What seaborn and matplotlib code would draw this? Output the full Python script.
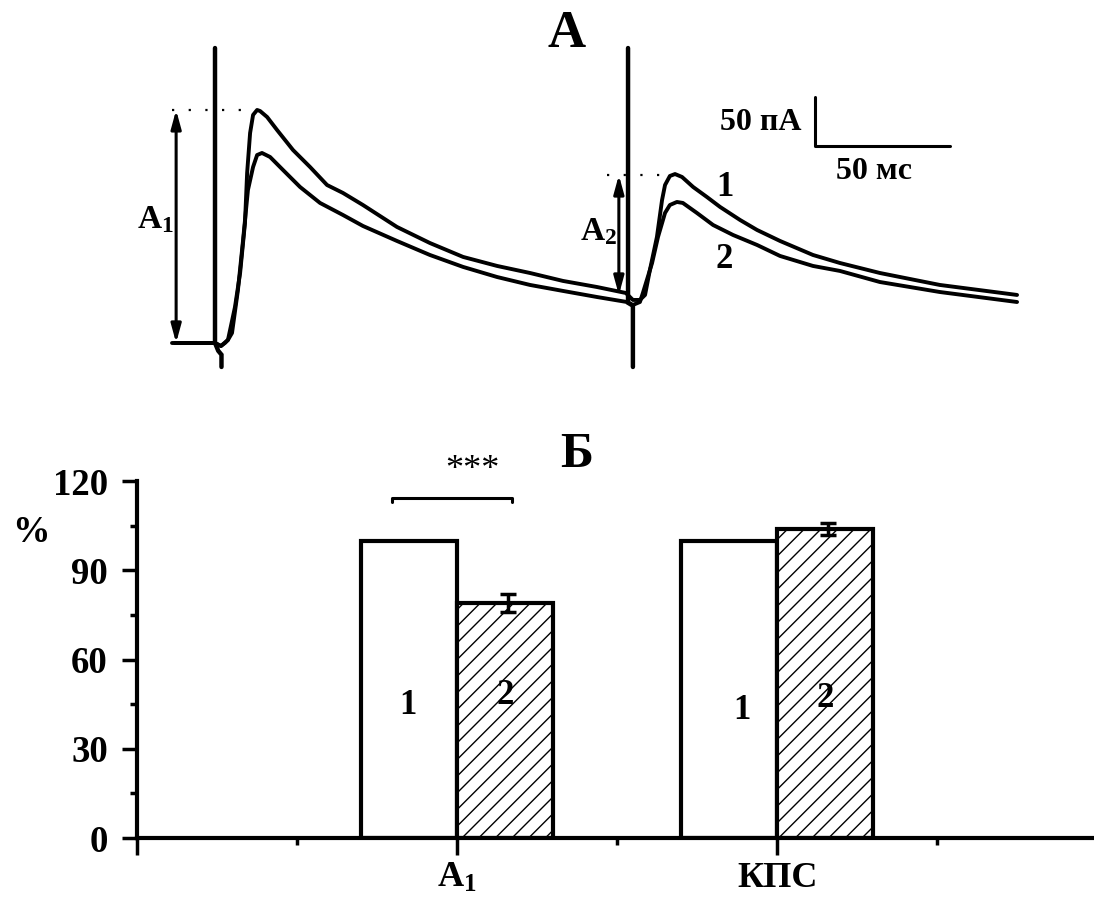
import numpy as np
import pandas as pd
import matplotlib
matplotlib.use('Agg')
import matplotlib.pyplot as plt
import seaborn as sns

# --- данные: токи (панель А), время в мс, ток в пА ---
t1 = [0, 14.8, 17.0, 18.5, 19.6, 22.2, 24.1, 25.9, 26.7, 27.8, 28.9, 30.4, 31.5,
      34.1, 37.8, 43.7, 50.0, 56.3, 62.2, 69.6, 82.2, 94.4, 106.7, 119.3, 131.5, 143.7,
      156.3, 167.0,
      169.6, 172.2, 174.1, 175.9, 178.5, 180.4, 181.5, 183.3, 185.2, 187.8, 191.9, 197.0,
      201.9, 209.3, 215.6, 224.1, 236.3, 246.3, 261.1, 283.3, 311.9]
i1 = [0, 0, -3.1, 0, 3.1, 36.7, 71.4, 122.4, 173.5, 214.3, 232.7, 237.8, 236.7,
      230.6, 217.3, 196.9, 179.6, 161.2, 153.1, 140.8, 118.4, 102.0, 87.8, 78.6, 71.4, 63.3,
      57.1, 51.0,
      43.9, 43.9, 49.0, 74.5, 108.2, 145.9, 161.2, 170.4, 172.4, 169.4, 159.2, 149.0,
      138.8, 125.5, 115.3, 104.1, 89.8, 81.6, 71.4, 59.2, 49.0]

t2 = [0, 14.8, 17.0, 19.6, 21.1, 23.3, 25.2, 27.0, 28.9, 30.4, 32.2,
      35.2, 40.0, 46.3, 53.7, 62.2, 69.6, 82.2, 94.4, 106.7, 119.3, 131.5, 143.7, 156.3,
      167.4,
      169.6, 172.2, 173.3, 176.7, 178.9, 181.5, 183.3, 185.9, 188.1, 193.3, 199.3, 206.7,
      215.6, 224.1, 236.3, 246.3, 261.1, 283.3, 311.9]
i2 = [0, 0, -3.1, 3.1, 10.2, 54.1, 105.1, 156.1, 179.6, 191.8, 193.9,
      189.8, 176.5, 159.2, 142.9, 130.6, 119.4, 104.1, 89.8, 77.6, 67.3, 59.2, 53.1, 46.9,
      41.8,
      38.8, 41.8, 51.0, 81.6, 108.2, 132.7, 140.8, 143.9, 142.9, 132.7, 120.4, 110.2,
      100.0, 88.8, 78.6, 73.5, 62.2, 52.0, 41.8]

# артефакты стимуляции
art1_t = [14.8, 14.8, 16.0, 17.2, 17.2]
art1_i = [301, 0, -8, -12, -24.5]
art2_t = [167.8, 167.8, 169.6, 169.6]
art2_i = [301, 41, 38, -24.5]

# амплитуды A1 и A2
a1_top, a1_base = 237.8, 0
a2_top, a2_base = 171.4, 49.0

# --- данные: панель Б ---
params = ['A1', 'КПС']
group1 = [100, 100]
group2 = [79, 104]
sem2 = [3.0, 2.0]

sns.set_style('ticks')
plt.rcParams['font.family'] = ['Liberation Serif', 'DejaVu Serif']
plt.rcParams['font.weight'] = 'bold'
plt.rcParams['mathtext.fontset'] = 'custom'
plt.rcParams['mathtext.rm'] = 'Liberation Serif'
plt.rcParams['mathtext.bf'] = 'Liberation Serif:bold'
plt.rcParams['hatch.linewidth'] = 1.0
for k in ['text.color', 'axes.labelcolor', 'xtick.color', 'ytick.color', 'axes.edgecolor']:
    plt.rcParams[k] = 'black'

fig = plt.figure(figsize=(10.94, 9.09), dpi=100)

# ---------------- Панель А ----------------
ax1 = fig.add_axes([100 / 1094, 1 - 375 / 909, 940 / 1094, 335 / 909])
tr = pd.DataFrame({'t': t1 + t2, 'i': i1 + i2,
                   'trace': ['1'] * len(t1) + ['2'] * len(t2)})
sns.lineplot(data=tr, x='t', y='i', units='trace', estimator=None, sort=False,
             color='black', linewidth=2.8, ax=ax1, legend=False)
ax1.plot(art1_t, art1_i, color='black', lw=3.2, solid_joinstyle='miter')
ax1.plot(art2_t, art2_i, color='black', lw=3.2, solid_joinstyle='miter')
ax1.plot([-1.1, 14.8], [0, 0], color='black', lw=2.8)
ax1.set_xlim(-27.8, 320.4)
ax1.set_ylim(-32.7, 309.2)
ax1.axis('off')

# пунктир и стрелки амплитуд
ax1.plot([-1.1, 29.6], [a1_top, a1_top], color='black', lw=1.6, ls=(0, (1, 6.5)))
ax1.plot([160.0, 182.6], [a2_top, a2_top], color='black', lw=1.6, ls=(0, (1, 6.5)))
arrow = dict(arrowstyle='<|-|>,head_length=1.1,head_width=0.3', color='black',
             lw=2.2, shrinkA=0, shrinkB=0)
ax1.annotate('', xy=(0.4, a1_top), xytext=(0.4, a1_base), arrowprops=arrow)
ax1.annotate('', xy=(164.4, a2_top), xytext=(164.4, a2_base), arrowprops=arrow)
ax1.text(-7.4, 125.5, r'$\mathbf{A_1}$', fontsize=24, ha='center', va='center')
ax1.text(156.7, 113.3, r'$\mathbf{A_2}$', fontsize=24, ha='center', va='center')
ax1.text(203.5, 159, '1', fontsize=25, fontweight='bold', ha='center', va='center')
ax1.text(203.5, 85, '2', fontsize=25, fontweight='bold', ha='center', va='center')

# масштабная линейка 50 пА / 50 мс
ax1.plot([237.0, 237.0, 287.0], [251, 201, 201], color='black', lw=2.2)
ax1.text(232.0, 224.5, '50 пА', fontsize=23, fontweight='bold', ha='right', va='center')
ax1.text(258.9, 175.5, '50 мс', fontsize=23, fontweight='bold', ha='center', va='center')

fig.text(567 / 1094, 1 - 34 / 909, 'А', fontsize=38, fontweight='bold',
         ha='center', va='center')

# ---------------- Панель Б ----------------
ax2 = fig.add_axes([137 / 1094, 1 - 838 / 909, (1094 - 137) / 1094, 357 / 909])
df = pd.DataFrame({'param': params * 2,
                   'value': group1 + group2,
                   'group': ['1'] * len(params) + ['2'] * len(params)})
sns.barplot(data=df, x='param', y='value', hue='group', order=params,
            palette=['white', 'white'], edgecolor='black', linewidth=3,
            width=0.6, gap=0, legend=False, ax=ax2)
for p in ax2.containers[1]:
    p.set_hatch('//')

xpos = np.arange(len(params))
ax2.errorbar(xpos + 0.16, group2, yerr=sem2, fmt='none', ecolor='black',
             elinewidth=2.5, capsize=6, capthick=2.5)

ax2.set_xlim(-1, 1.99)
ax2.set_ylim(0, 120)
ax2.set_xticks([-1, 0, 1])
ax2.set_xticklabels(['', r'$\mathbf{A_1}$', 'КПС'], fontsize=26, fontweight='bold')
ax2.set_xticks([-0.5, 0.5, 1.5], minor=True)
ax2.set_yticks([0, 30, 60, 90, 120])
ax2.set_yticklabels(['0', '30', '60', '90', '120'], fontsize=26.5, fontweight='bold')
ax2.set_yticks([15, 45, 75, 105], minor=True)
ax2.tick_params(axis='y', which='major', length=11, width=2.5, pad=10)
ax2.tick_params(axis='x', which='major', length=12, width=2.5, pad=5)
ax2.tick_params(axis='both', which='minor', length=5, width=2.5)
ax2.set_xlabel('')
ax2.set_ylabel('')
for s in ['left', 'bottom']:
    ax2.spines[s].set_linewidth(3)
sns.despine(ax=ax2)

# номера столбцов
ax2.text(-0.153, 44.7, '1', fontsize=25, fontweight='bold', ha='center', va='center')
ax2.text(0.15, 48, '2', fontsize=25, fontweight='bold', ha='center', va='center')
ax2.text(0.891, 43, '1', fontsize=25, fontweight='bold', ha='center', va='center')
ax2.text(1.15, 47, '2', fontsize=25, fontweight='bold', ha='center', va='center')

# значимость
ax2.plot([-0.203, -0.203, 0.172, 0.172], [112.8, 114.3, 114.3, 112.8],
         color='black', lw=2.2, clip_on=False)
ax2.text(0.047, 123.5, '***', fontsize=26, fontweight='normal', ha='center',
         va='center', clip_on=False)

fig.text(31 / 1094, 1 - 532 / 909, '%', fontsize=27, fontweight='bold',
         ha='center', va='center')
fig.text(577 / 1094, 1 - 455 / 909, 'Б', fontsize=36, fontweight='bold',
         ha='center', va='center')

fig.savefig('out.png', dpi=100)
